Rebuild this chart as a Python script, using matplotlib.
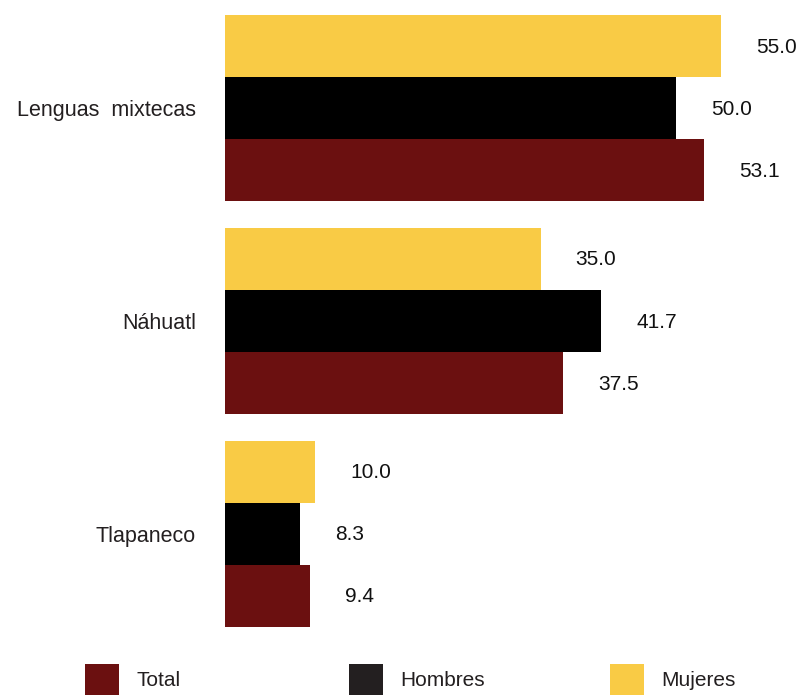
import matplotlib
matplotlib.use("Agg")
import matplotlib.pyplot as plt
from matplotlib.patches import Patch
import numpy as np

plt.rcParams['font.family'] = ['Liberation Sans', 'DejaVu Sans']

categories = ["Lenguas  mixtecas", "Náhuatl", "Tlapaneco"]
series_names = ["Mujeres", "Hombres", "Total"]
mujeres = [55.0, 35.0, 10.0]
hombres = [50.0, 41.7, 8.3]
total = [53.1, 37.5, 9.4]
colors = {"Total": "#6B1010", "Hombres": "#000000", "Mujeres": "#F9CB45"}
legend_colors = {"Total": "#6B1010", "Hombres": "#231F20", "Mujeres": "#F9CB45"}

W, H = 801, 695
fig = plt.figure(figsize=(W / 100, H / 100), dpi=100)
ax_left, ax_right = 225, 801
ax_top, ax_bottom = 15, 627
ax = fig.add_axes([ax_left / W, 1 - ax_bottom / H, (ax_right - ax_left) / W, (ax_bottom - ax_top) / H])

group_step = 3.435
values = [mujeres, hombres, total]
for i, (name, vals) in enumerate(zip(series_names, values)):
    ys = np.arange(len(categories)) * group_step + i
    ax.barh(ys, vals, height=1.0, color=colors[name], edgecolor='none')
    for y, v in zip(ys, vals):
        ax.annotate(f"{v:.1f}", xy=(v, y), xytext=(35 * 0.72, -1 * 0.72), textcoords='offset points',
                    ha='left', va='center', fontsize=15, color='#111111')

ax.set_xlim(0, (ax_right - ax_left) / 9.018)
ax.set_ylim(2 * group_step + 2 + 0.5, -0.5)
ax.set_yticks(np.arange(len(categories)) * group_step + 1)
ax.set_yticklabels(categories, fontsize=15.5, color='#231F20')
ax.tick_params(axis='y', length=0, pad=29 * 0.72)
ax.set_xticks([])
for s in ax.spines.values():
    s.set_visible(False)

# legend: three single-entry legends
legend_specs = [("Total", 85), ("Hombres", 349), ("Mujeres", 610)]
for name, xpx in legend_specs:
    h = Patch(facecolor=legend_colors[name], edgecolor='none')
    leg = fig.legend([h], [name], loc='lower left',
                     bbox_to_anchor=(xpx / W, 0), bbox_transform=fig.transFigure,
                     frameon=False, fontsize=15, handlelength=1.63, handleheight=1.93,
                     handletextpad=0.85, borderaxespad=0, borderpad=0)
    for t in leg.get_texts():
        t.set_color('#231F20')

fig.savefig("out.png", dpi=100)
